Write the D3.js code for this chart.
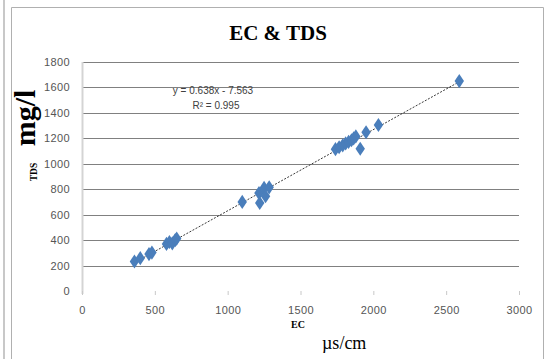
<!DOCTYPE html>
<html lang="en">
<head>
    <meta charset="UTF-8">
    <title>EC & TDS</title>
    <script src="https://d3js.org/d3.v7.min.js"></script>
    <style>
        body, html {
            margin: 0;
            background-color: #ffffff;
        }
        svg {
            display: block;
        }
        .tick text {
            font-family: 'Liberation Sans', Arial, sans-serif;
            font-size: 11px;
            fill: #555;
            letter-spacing: 0.4px;
        }
    </style>
</head>
<body>
<svg id="chart" width="544" height="359"></svg>

<script>
    // EC (µs/cm) and TDS (mg/l) samples
    const ecValues = [360, 400, 460, 480, 580, 600, 620, 640, 650,
        1100, 1215, 1220, 1250, 1260, 1285,
        1740, 1765, 1790, 1810, 1830, 1850, 1865, 1880, 1910, 1950, 2035, 2590];
    const tdsValues = [232, 258, 290, 302, 370, 385, 375, 400, 412,
        700, 770, 692, 810, 745, 815,
        1115, 1130, 1145, 1160, 1172, 1185, 1200, 1215, 1118, 1248, 1305, 1650];
    const xTicks = [0, 500, 1000, 1500, 2000, 2500, 3000];
    const yTicks = [0, 200, 400, 600, 800, 1000, 1200, 1400, 1600, 1800];
    const slope = 0.638;
    const intercept = -7.563;
    const rSquared = 0.995;

    const svg = d3.select('#chart');
    const margin = { top: 62, right: 25, bottom: 68, left: 82 };
    const width = +svg.attr('width') - margin.left - margin.right;
    const height = +svg.attr('height') - margin.top - margin.bottom;

    // outer frame
    svg.append('line').attr('x1', 4).attr('x2', 4).attr('y1', 0).attr('y2', 359)
        .attr('stroke', '#c8c8c8').attr('stroke-width', 2);
    svg.append('path')
        .attr('d', 'M11.5,359 V7.5 H543.5 V359')
        .attr('fill', 'none').attr('stroke', '#b0b0b0');

    const x = d3.scaleLinear().domain([0, 3000]).range([0, width]);
    const y = d3.scaleLinear().domain([0, 1800]).range([height, 0]);

    const g = svg.append('g').attr('transform', `translate(${margin.left},${margin.top})`);

    // horizontal gridlines (no line at zero)
    g.append('g')
        .selectAll('line')
        .data(yTicks.filter(d => d > 0))
        .join('line')
        .attr('x1', 0).attr('x2', width)
        .attr('y1', d => Math.round(y(d)) + 0.5).attr('y2', d => Math.round(y(d)) + 0.5)
        .attr('stroke', '#808080');

    // left axis line
    g.append('line')
        .attr('x1', 0.5).attr('x2', 0.5).attr('y1', 0).attr('y2', height + 3)
        .attr('stroke', '#d4d4d4').attr('stroke-width', 2);

    const xAxis = g.append('g')
        .attr('transform', `translate(0,${height})`)
        .call(d3.axisBottom(x).tickValues(xTicks).tickSize(4).tickPadding(11).tickFormat(d3.format('d')));
    xAxis.select('.domain').remove();
    xAxis.selectAll('.tick line').attr('stroke', '#c8c8c8');

    const yAxis = g.append('g')
        .call(d3.axisLeft(y).tickValues(yTicks).tickSize(0).tickPadding(12).tickFormat(d3.format('d')));
    yAxis.select('.domain').remove();

    // trendline
    const ecExtent = d3.extent(ecValues);
    g.append('line')
        .attr('x1', x(ecExtent[0])).attr('y1', y(slope * ecExtent[0] + intercept))
        .attr('x2', x(ecExtent[1])).attr('y2', y(slope * ecExtent[1] + intercept))
        .attr('stroke', '#222').attr('stroke-width', 0.9)
        .attr('stroke-dasharray', '2,1.5');

    // data points as diamonds
    const points = ecValues.map((d, i) => ({ ec: d, tds: tdsValues[i] }));
    g.append('g')
        .selectAll('path')
        .data(points)
        .join('path')
        .attr('d', d3.symbol(d3.symbolDiamond, 58))
        .attr('transform', d => `translate(${x(d.ec)},${y(d.tds)}) scale(1.15,1)`)
        .attr('fill', '#4a7ebb');

    // equation label
    const eq = svg.append('text')
        .attr('x', 213).attr('y', 94)
        .attr('text-anchor', 'middle')
        .style('font-family', "'Liberation Sans', Arial, sans-serif")
        .style('font-size', '10px')
        .style('fill', '#404040');
    eq.append('tspan').attr('x', 213).text(`y = ${slope}x - ${Math.abs(intercept)}`);
    eq.append('tspan').attr('x', 216).attr('dy', 15).text(`R² = ${rSquared}`);

    // titles
    svg.append('text')
        .attr('x', 278).attr('y', 40)
        .attr('text-anchor', 'middle')
        .style('font-family', "'Liberation Serif', 'Times New Roman', serif")
        .style('font-weight', 'bold')
        .style('font-size', '21px')
        .text('EC & TDS');

    svg.append('text')
        .attr('transform', 'translate(35,118) rotate(-90)')
        .attr('text-anchor', 'middle')
        .style('font-family', "'Liberation Serif', 'Times New Roman', serif")
        .style('font-weight', 'bold')
        .style('font-size', '30px')
        .text('mg/l');

    svg.append('text')
        .attr('transform', 'translate(37,172) rotate(-90)')
        .attr('text-anchor', 'middle')
        .style('font-family', "'Liberation Serif', 'Times New Roman', serif")
        .style('font-weight', 'bold')
        .style('font-size', '9.5px')
        .text('TDS');

    svg.append('text')
        .attr('x', 298).attr('y', 328)
        .attr('text-anchor', 'middle')
        .style('font-family', "'Liberation Serif', 'Times New Roman', serif")
        .style('font-weight', 'bold')
        .style('font-size', '10px')
        .text('EC');

    svg.append('text')
        .attr('x', 322).attr('y', 349)
        .style('font-family', "'Liberation Serif', 'Times New Roman', serif")
        .style('font-size', '18px')
        .text('µs/cm');
</script>
</body>
</html>
